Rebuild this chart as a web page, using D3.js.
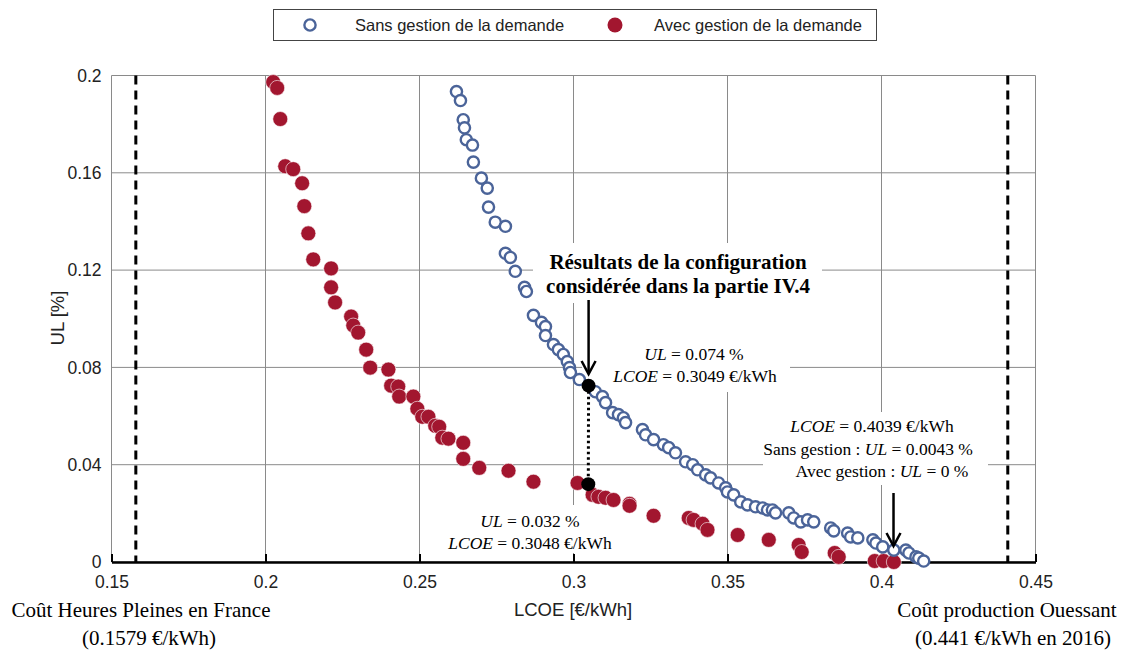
<!DOCTYPE html>
<html><head><meta charset="utf-8">
<script src="https://cdn.jsdelivr.net/npm/d3@7"></script>
<style>body{margin:0;background:#fff}svg{display:block}</style>
</head><body>
<script>
// ---- data (LCOE in €/kWh, UL in %) ----
const sansLCOE = [.2620,.2633,.2642,.2646,.2652,.2672,.2675,.2701,.2720,.2724,
 .2746,.2779,.2779,.2795,.2811,.2841,.2847,.2870,.2896,.2909,
 .2909,.2935,.2951,.2967,.2980,.2987,.2990,.3019,.3071,.3094,
 .3104,.3127,.3146,.3162,.3169,.3224,.3234,.3260,.3292,.3309,
 .3331,.3364,.3387,.3403,.3429,.3445,.3471,.3494,.3500,.3520,
 .3543,.3565,.3591,.3614,.3630,.3646,.3656,.3699,.3715,.3738,
 .3760,.3780,.3835,.3845,.3890,.3900,.3923,.3972,.3982,.4004,
 .4040,.4079,.4089,.4112,.4121,.4137];
const sansUL = [.1934,.1897,.1818,.1785,.1736,.1714,.1644,.1578,.1537,.1459,
 .1397,.1380,.1269,.1252,.1195,.1129,.1112,.1014,.0985,.0968,
 .0931,.0894,.0873,.0853,.0824,.0799,.0779,.0750,.0700,.0680,
 .0655,.0614,.0606,.0593,.0573,.0544,.0523,.0503,.0482,.0470,
 .0449,.0412,.0400,.0379,.0358,.0346,.0325,.0305,.0288,.0276,
 .0247,.0235,.0227,.0222,.0214,.0214,.0202,.0202,.0181,.0165,
 .0173,.0165,.0140,.0128,.0119,.0103,.0099,.0091,.0078,.0062,
 .0049,.0049,.0037,.0021,.0016,.0004];
const avecLCOE = [.2025,.2038,.2048,.2064,.2090,.2119,.2126,.2139,.2155,.2213,
 .2213,.2226,.2278,.2285,.2301,.2327,.2340,.2399,.2408,.2431,
 .2434,.2480,.2493,.2509,.2529,.2551,.2564,.2574,.2594,.2642,
 .2642,.2694,.2789,.2870,.3013,.3062,.3081,.3104,.3130,.3182,
 .3182,.3260,.3374,.3390,.3419,.3435,.3533,.3634,.3731,.3741,
 .3848,.3861,.3978,.4007,.4040];
const avecUL = [.1973,.1949,.1821,.1627,.1615,.1557,.1463,.1351,.1244,.1207,
 .1129,.1067,.1009,.0972,.0943,.0873,.0799,.0791,.0725,.0721,
 .0680,.0680,.0630,.0597,.0597,.0560,.0556,.0511,.0507,.0490,
 .0424,.0387,.0375,.0330,.0325,.0276,.0268,.0264,.0255,.0239,
 .0231,.0190,.0181,.0173,.0157,.0132,.0111,.0091,.0070,.0041,
 .0037,.0021,.0004,.0004,.0000];
const xTicks = [0.15,0.2,0.25,0.3,0.35,0.4,0.45];
const xTickLabels = ["0.15","0.2","0.25","0.3","0.35","0.4","0.45"];
const yTicks = [0,0.04,0.08,0.12,0.16,0.2];
const yTickLabels = ["0","0.04","0.08","0.12","0.16","0.2"];
const refLines = [0.1579, 0.441];
const selLCOE = [0.3049, 0.3048];
const selUL = [0.0725, 0.032];
const selArrowLCOE = [0.3049, 0.4039];
const seriesNames = ["Sans gestion de la demande","Avec gestion de la demande"];

const W=1126,H=650;
const svg=d3.select("body").append("svg").attr("width",W).attr("height",H);
const x=d3.scaleLinear().domain([0.15,0.45]).range([111.5,1035.5]);
const y=d3.scaleLinear().domain([0,0.2]).range([562,75.5]);
const blue="#4b6499", red="#a2162f", grid="#8a8a8a";
const sans="Liberation Sans, Arial, sans-serif", serif="Liberation Serif, Times New Roman, serif";

// grid
svg.append("g").selectAll("line").data(xTicks).join("line")
 .attr("x1",d=>x(d)).attr("x2",d=>x(d)).attr("y1",y(0.2)).attr("y2",y(0))
 .attr("stroke",grid).attr("stroke-width",1);
svg.append("g").selectAll("line").data(yTicks).join("line")
 .attr("x1",x(0.15)).attr("x2",x(0.45)).attr("y1",d=>y(d)).attr("y2",d=>y(d))
 .attr("stroke",grid).attr("stroke-width",1);

// white boxes behind annotation text
const boxes=[[533,243,822,303],[582,303,790,392],[763,412,988,485],[438,505,626,553]];
svg.append("g").selectAll("rect").data(boxes).join("rect")
 .attr("x",d=>d[0]).attr("y",d=>d[1]).attr("width",d=>d[2]-d[0]).attr("height",d=>d[3]-d[1]).attr("fill","#fff");

// bottom axis
const xAxis=d3.axisBottom(x).tickValues(xTicks).tickFormat((d,i)=>xTickLabels[i]).tickSizeInner(-8).tickSizeOuter(0).tickPadding(14);
const gx=svg.append("g").attr("transform",`translate(0,${y(0)})`).call(xAxis);
gx.select(".domain").attr("stroke","#000").attr("stroke-width",2.5);
gx.selectAll(".tick line").attr("stroke","#000").attr("stroke-width",2);
gx.selectAll("text").attr("font-family",sans).attr("font-size",17.5).attr("fill","#222");

// y labels
const yAxis=d3.axisLeft(y).tickValues(yTicks).tickFormat((d,i)=>yTickLabels[i]).tickSize(0).tickPadding(10);
const gy=svg.append("g").attr("transform",`translate(${x(0.15)},0)`).call(yAxis);
gy.select(".domain").remove();
gy.selectAll("text").attr("font-family",sans).attr("font-size",17.5).attr("fill","#222");

// reference dashed lines
svg.append("g").selectAll("line").data(refLines).join("line")
 .attr("x1",d=>x(d)).attr("x2",d=>x(d)).attr("y1",y(0.2)).attr("y2",y(0))
 .attr("stroke","#000").attr("stroke-width",3).attr("stroke-dasharray","9,6");

// points
const sansData=sansLCOE.map((v,i)=>({x:v,y:sansUL[i]}));
const avecData=avecLCOE.map((v,i)=>({x:v,y:avecUL[i]}));
svg.append("g").selectAll("circle").data(avecData).join("circle")
 .attr("cx",d=>x(d.x)).attr("cy",d=>y(d.y)).attr("r",7.5)
 .attr("fill",red).attr("stroke","#fff").attr("stroke-width",0.6);
svg.append("g").selectAll("circle").data(sansData).join("circle")
 .attr("cx",d=>x(d.x)).attr("cy",d=>y(d.y)).attr("r",5.6)
 .attr("fill","#fff").attr("stroke",blue).attr("stroke-width",2.4);

// dotted connector and selected points
svg.append("line").attr("x1",x(selLCOE[0])).attr("x2",x(selLCOE[1])).attr("y1",y(selUL[0])).attr("y2",y(selUL[1]))
 .attr("stroke","#000").attr("stroke-width",3).attr("stroke-dasharray","2.5,3");
svg.append("g").selectAll("circle").data(selLCOE.map((v,i)=>({x:v,y:selUL[i]}))).join("circle")
 .attr("cx",d=>x(d.x)).attr("cy",d=>y(d.y)).attr("r",7).attr("fill","#000");

// arrows
function arrow(px,y1,y2){
  const g=svg.append("g").attr("stroke","#000").attr("stroke-width",2.5).attr("fill","none");
  g.append("line").attr("x1",px).attr("x2",px).attr("y1",y1).attr("y2",y2);
  g.append("path").attr("d",`M${px-7},${y2-13}L${px},${y2}L${px+7},${y2-13}`);
}
arrow(x(selArrowLCOE[0]),300,374);
arrow(x(selArrowLCOE[1]),493,546);

// annotation text
const ann=svg.append("g").attr("font-family",serif).attr("fill","#000").attr("text-anchor","middle");
ann.append("text").attr("x",678).attr("y",269).attr("font-size",21).attr("font-weight","bold").text("Résultats de la configuration");
ann.append("text").attr("x",678).attr("y",293).attr("font-size",21).attr("font-weight","bold").text("considérée dans la partie IV.4");
function mathLine(xc,yb,anchor,pre,varName,post){
  const t=ann.append("text").attr("x",xc).attr("y",yb).attr("font-size",17.5).attr("text-anchor",anchor);
  if(pre) t.append("tspan").text(pre);
  t.append("tspan").attr("font-style","italic").text(varName);
  t.append("tspan").text(post);
}
mathLine(694,360,"middle","","UL"," = 0.074 %");
mathLine(695,382,"middle","","LCOE"," = 0.3049 €/kWh");
mathLine(530,527,"middle","","UL"," = 0.032 %");
mathLine(530,549,"middle","","LCOE"," = 0.3048 €/kWh");
mathLine(872,432,"middle","","LCOE"," = 0.4039 €/kWh");
mathLine(868,455,"middle","Sans gestion : ","UL"," = 0.0043 %");
mathLine(882,477,"middle","Avec gestion : ","UL"," = 0 %");

// bottom side labels
const side=svg.append("g").attr("font-family",serif).attr("font-size",21).attr("fill","#000").attr("text-anchor","middle");
side.append("text").attr("x",141).attr("y",617).text("Coût Heures Pleines en France");
side.append("text").attr("x",149).attr("y",645).text("(0.1579 €/kWh)");
side.append("text").attr("x",1007).attr("y",617).text("Coût production Ouessant");
side.append("text").attr("x",1013).attr("y",645).text("(0.441 €/kWh en 2016)");

// axis titles
svg.append("text").attr("x",573).attr("y",616).attr("text-anchor","middle").attr("font-family",sans).attr("font-size",18.5).attr("fill","#222").text("LCOE [€/kWh]");
svg.append("text").attr("transform","translate(64,318) rotate(-90)").attr("text-anchor","middle").attr("font-family",sans).attr("font-size",18.5).attr("fill","#222").text("UL [%]");

// legend
const lg=svg.append("g");
lg.append("rect").attr("x",273.5).attr("y",9.5).attr("width",603).attr("height",31).attr("fill","#fff").attr("stroke","#444").attr("stroke-width",1);
lg.append("circle").attr("cx",310).attr("cy",25).attr("r",5.6).attr("fill","#fff").attr("stroke",blue).attr("stroke-width",2.4);
lg.append("circle").attr("cx",615).attr("cy",25).attr("r",7.5).attr("fill",red);
lg.append("text").attr("x",355).attr("y",31).attr("font-family",sans).attr("font-size",16.5).attr("fill","#222").text(seriesNames[0]);
lg.append("text").attr("x",654).attr("y",31).attr("font-family",sans).attr("font-size",16.5).attr("fill","#222").text(seriesNames[1]);
</script>
</body></html>
